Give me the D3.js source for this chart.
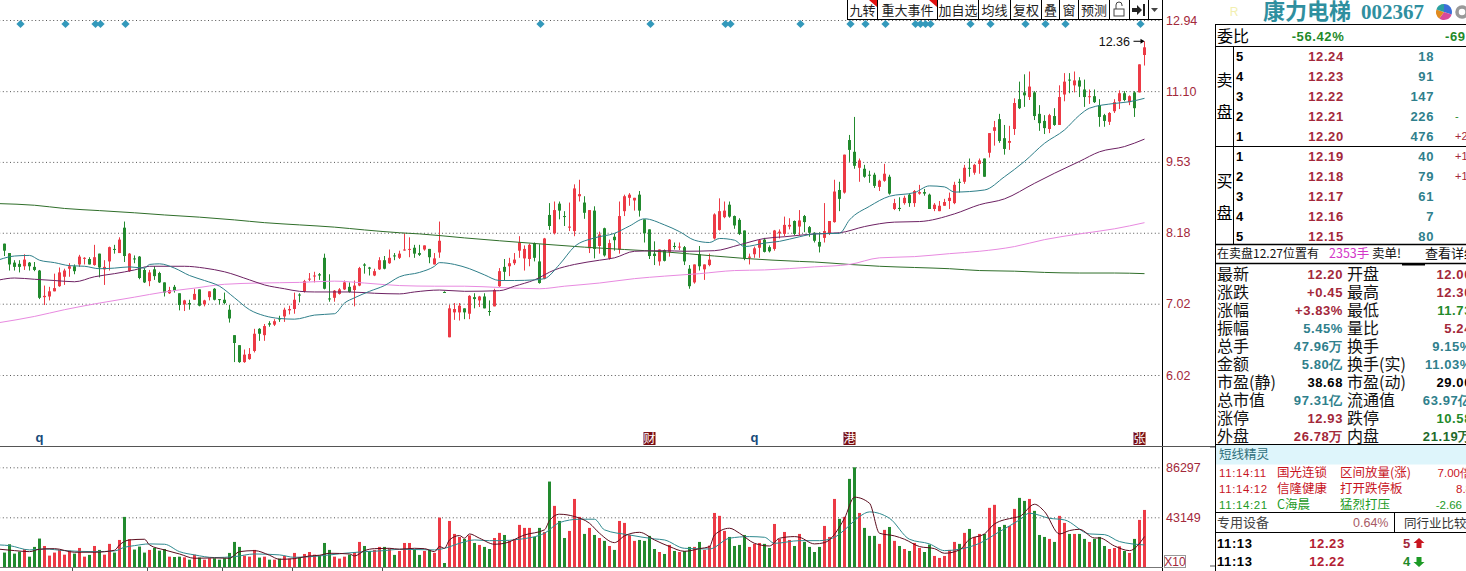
<!DOCTYPE html>
<html>
<head>
<meta charset="utf-8">
<title>康力电梯 002367</title>
<script src="https://cdn.jsdelivr.net/npm/d3@7/dist/d3.min.js"></script>
<style>
    html, body { margin: 0; padding: 0; background: #fff; overflow: hidden; }
    svg { display: block; }
    text { font-family: "Noto Sans CJK SC", "Liberation Sans", sans-serif; }
    .num { font-family: "Liberation Sans", Arial, sans-serif; }
    .bold { font-family: "Liberation Sans", Arial, sans-serif; font-weight: bold; letter-spacing: 0.6px; }
</style>
</head>
<body>
<svg id="chart" width="1466" height="571"></svg>
<script>
var openPrices = [
    7.99,7.83,7.67,7.65,7.61,7.67,7.60,7.54,7.12,7.13,
    7.21,7.29,7.44,7.57,7.61,7.64,7.74,7.73,7.63,7.82,
    7.56,7.69,7.90,7.83,8.27,7.53,7.74,7.77,7.55,7.37,
    7.56,7.50,7.35,7.18,7.28,7.18,7.01,7.03,7.08,7.24,
    7.01,7.12,7.25,7.09,7.08,6.93,6.56,6.42,6.19,6.23,
    6.34,6.65,6.56,6.73,6.71,6.80,6.83,6.92,6.94,7.16,
    7.21,7.40,7.45,7.48,7.75,7.10,7.11,7.17,7.24,7.28,
    7.23,7.30,7.64,7.59,7.46,7.56,7.71,7.66,7.79,7.75,
    7.88,7.89,7.92,7.83,7.89,7.90,7.64,7.84,7.20,6.53,
    6.89,6.89,6.95,6.87,7.12,7.07,7.13,6.91,6.98,7.29,
    7.60,7.61,7.66,7.87,7.74,7.73,8.00,7.69,7.41,8.50,
    8.17,8.71,8.48,8.27,8.21,8.85,8.73,7.91,8.58,7.95,
    8.26,7.74,8.11,7.89,8.57,8.82,8.77,8.88,8.42,8.24,
    7.82,7.69,7.88,7.85,7.95,7.93,7.93,7.57,7.35,7.81,
    7.56,7.63,8.08,8.23,8.46,8.69,8.48,8.41,8.22,7.75,
    7.81,7.92,8.06,7.93,7.90,8.17,8.16,8.29,8.39,8.29,
    8.48,8.28,8.18,8.02,8.09,8.16,8.37,8.97,8.92,9.99,
    9.74,9.41,9.39,9.27,9.27,9.03,9.15,9.23,8.61,8.63,
    8.72,8.88,8.72,8.90,8.93,8.88,8.61,8.57,8.67,8.76,
    8.72,9.13,9.13,9.41,9.31,9.49,9.60,9.72,10.19,10.45,
    10.03,9.93,10.23,10.91,11.07,10.96,11.07,10.57,10.41,10.23,
    10.52,10.32,11.02,11.38,11.24,11.36,11.14,10.96,10.98,10.77,
    10.54,10.39,10.63,10.86,11.05,10.84,11.07,11.07,12.00
];
var closePrices = [
    7.87,7.64,7.60,7.60,7.72,7.61,7.55,7.11,7.14,7.21,
    7.26,7.51,7.54,7.61,7.53,7.77,7.75,7.64,7.76,7.59,
    7.60,7.93,7.89,8.06,7.78,7.82,7.73,7.42,7.35,7.51,
    7.45,7.35,7.19,7.23,7.22,7.00,7.07,7.01,7.17,6.99,
    7.07,7.21,7.08,7.08,7.03,6.80,6.45,6.19,6.29,6.30,
    6.58,6.58,6.69,6.71,6.76,6.79,6.93,6.94,7.08,7.15,
    7.37,7.41,7.46,7.46,7.25,7.09,7.22,7.24,7.35,7.20,
    7.30,7.58,7.62,7.57,7.53,7.71,7.57,7.75,7.78,7.82,
    7.89,7.90,7.82,7.80,7.96,7.76,7.74,8.04,7.19,6.95,
    6.94,6.99,6.89,7.14,7.09,7.13,6.95,6.90,7.23,7.53,
    7.52,7.66,7.72,8.01,7.90,7.97,7.75,7.34,8.08,8.30,
    8.59,8.58,8.47,8.29,9.00,8.89,8.54,8.59,7.90,8.15,
    7.79,8.00,8.05,8.48,8.85,8.88,8.82,8.58,8.17,7.78,
    7.78,7.89,7.70,8.06,7.94,7.94,7.69,7.29,7.64,7.61,
    7.64,7.72,8.51,8.57,8.58,8.47,8.31,8.16,7.74,7.77,
    7.91,8.05,7.85,7.86,8.22,8.20,8.32,8.32,8.16,8.40,
    8.37,8.18,8.04,7.94,8.21,8.39,8.94,8.80,9.68,9.78,
    9.45,9.56,9.23,9.25,9.05,9.15,9.29,8.90,8.72,8.61,
    8.82,8.72,8.95,8.93,8.90,8.61,8.69,8.67,8.74,8.82,
    9.07,9.11,9.41,9.39,9.47,9.56,9.23,10.14,10.27,9.97,
    9.80,9.97,10.82,10.70,11.00,11.21,10.52,10.36,10.25,10.54,
    10.32,10.96,11.33,11.36,11.36,11.21,10.96,10.98,10.84,10.50,
    10.41,10.59,10.84,11.05,10.89,10.98,10.70,11.76,12.20
];
var highPrices = [
    7.99,7.83,7.71,7.71,7.81,7.68,7.68,7.55,7.30,7.28,
    7.49,7.59,7.57,7.66,7.64,7.80,7.76,7.76,7.97,7.82,
    7.71,7.94,7.97,8.10,8.38,7.83,7.79,7.78,7.58,7.55,
    7.61,7.52,7.35,7.28,7.31,7.18,7.08,7.08,7.25,7.24,
    7.08,7.21,7.26,7.09,7.19,7.00,6.56,6.42,6.36,6.38,
    6.65,6.66,6.72,6.76,6.79,6.84,6.96,6.99,7.19,7.18,
    7.39,7.50,7.52,7.50,7.82,7.48,7.23,7.26,7.38,7.35,
    7.38,7.60,7.66,7.60,7.57,7.76,7.78,7.89,7.83,7.87,
    8.17,8.10,7.97,7.97,7.96,7.90,7.83,8.38,7.21,7.00,
    7.03,7.03,6.95,7.15,7.18,7.14,7.18,7.07,7.25,7.58,
    7.73,7.75,7.83,8.12,7.96,7.99,8.01,7.98,8.09,8.72,
    8.75,8.75,8.57,8.73,9.08,9.17,8.85,8.59,8.66,8.20,
    8.27,8.06,8.16,8.75,8.88,8.91,8.82,8.95,8.42,8.24,
    8.03,7.89,7.89,8.07,8.01,8.01,7.95,7.63,7.64,7.95,
    7.64,7.82,8.53,8.81,8.75,8.75,8.49,8.44,8.22,7.82,
    7.94,8.07,8.09,7.96,8.23,8.24,8.47,8.44,8.40,8.59,
    8.50,8.30,8.19,8.19,8.72,8.39,9.17,9.13,9.68,10.10,
    10.50,9.60,9.47,9.35,9.31,9.17,9.49,9.27,8.80,8.83,
    8.86,8.90,8.97,9.07,8.99,8.90,8.72,8.76,8.80,8.92,
    9.13,9.19,9.47,9.60,9.49,9.60,9.60,10.14,10.41,10.57,
    10.32,10.30,10.93,11.33,11.51,11.58,11.10,10.77,10.54,10.57,
    10.70,11.24,11.54,11.54,11.58,11.44,11.38,11.14,11.14,10.91,
    10.57,10.61,10.91,11.12,11.10,11.00,11.10,11.76,12.36
];
var lowPrices = [
    7.78,7.54,7.54,7.51,7.55,7.54,7.53,7.09,7.00,7.07,
    7.21,7.28,7.31,7.44,7.48,7.60,7.64,7.64,7.62,7.43,
    7.31,7.54,7.82,7.83,7.68,7.52,7.66,7.40,7.34,7.29,
    7.39,7.34,7.13,7.17,7.19,6.92,6.91,6.93,7.08,6.98,
    6.98,7.07,7.07,7.01,7.01,6.74,6.19,6.18,6.18,6.22,
    6.32,6.48,6.48,6.68,6.69,6.75,6.75,6.86,6.87,7.04,
    7.19,7.37,7.35,7.39,7.24,7.05,7.05,7.16,7.23,7.19,
    6.98,7.29,7.49,7.46,7.45,7.55,7.56,7.65,7.71,7.73,
    7.87,7.76,7.75,7.78,7.87,7.66,7.64,7.75,7.19,6.53,
    6.78,6.77,6.79,6.79,6.95,6.97,6.95,6.84,6.98,7.28,
    7.38,7.45,7.63,7.75,7.54,7.61,7.69,7.33,7.40,8.23,
    8.15,8.42,8.30,8.21,8.12,8.75,8.43,7.83,7.74,7.82,
    7.77,7.72,7.87,7.82,8.48,8.67,8.58,8.47,8.01,7.73,
    7.63,7.62,7.69,7.77,7.89,7.88,7.63,7.25,7.33,7.54,
    7.39,7.61,8.06,8.22,8.44,8.45,8.25,8.14,7.71,7.64,
    7.75,7.75,7.84,7.84,7.87,8.08,8.12,8.24,8.14,8.13,
    8.19,8.11,8.01,7.84,8.01,8.14,8.36,8.57,8.90,9.53,
    9.39,9.13,9.21,9.11,9.01,8.95,9.13,8.88,8.59,8.57,
    8.69,8.65,8.65,8.88,8.86,8.61,8.57,8.57,8.67,8.61,
    8.70,8.92,9.09,9.23,9.27,9.29,9.23,9.62,9.87,9.93,
    9.68,9.78,10.10,10.68,10.73,10.89,10.43,10.19,10.12,10.14,
    10.30,10.32,10.86,11.05,11.07,10.96,10.73,10.80,10.82,10.28,
    10.28,10.32,10.59,10.68,10.86,10.77,10.50,11.07,11.73
];
var volumes = [
    12700,19900,11800,13500,15600,9200,17600,24800,18400,10100,
    12700,15000,10900,14400,11800,16700,9200,10700,18400,15000,
    10900,20200,12700,23600,43500,24200,15300,17900,12700,15000,
    16700,14400,15800,9200,8900,9200,8600,6600,10900,8400,
    6600,7800,7800,6600,7800,12400,21900,17600,10100,9200,
    15000,8400,9200,6600,6600,7500,9800,7500,12400,8400,
    11500,13200,10900,10100,21000,15000,9200,7500,9200,10900,
    13200,21900,18400,14100,15000,17600,17600,16400,10700,14100,
    21000,21000,15800,10700,14100,15000,12400,42900,3700,40000,
    28800,26200,24500,27600,21000,19300,17600,15800,25300,29700,
    27900,22800,24500,36600,34000,34000,26200,34000,30500,74000,
    53000,40000,25300,31400,59000,43500,28800,34000,27900,25300,
    22800,18400,15000,40000,38300,27900,22800,23600,22800,27100,
    15800,13200,11500,19300,14100,13200,14100,17600,17600,21900,
    15000,18700,46900,44400,31400,26200,18400,19300,27900,17600,
    20200,21000,20200,16700,37400,24500,30500,23600,18400,28800,
    21900,17600,13200,17600,35700,26200,59000,41800,43500,76300,
    86297,46900,34000,27100,27100,20200,32300,34800,22800,18400,
    15800,14100,21000,16700,13200,19600,9800,8100,9800,15000,
    21900,20200,29700,33100,26200,28800,28800,51300,53900,34800,
    36600,35700,50400,59900,57300,59000,48700,27900,26200,24500,
    21900,44400,38300,28800,28800,28800,24500,21900,24500,26200,
    18400,15800,16700,18100,14100,12400,24500,40900,49500
];

var maTealDays = [-1,2,5,7,10,13,16,19,22,25,28,29,31,34,37,40,43,46,49,52,55,58,62,66,68,70,73,76,79,83,86,87,90,93,96,99,102,106,108,111,114,118,122,125,128,132,135,138,141,143,146,148,152,155,159,162,167,169,173,177,182,185,188,190,196,200,204,208,212,215,217,222,225,228];
var maTeal = [7.72,7.78,7.79,7.71,7.67,7.62,7.61,7.57,7.58,7.60,7.58,7.64,7.65,7.58,7.46,7.38,7.29,7.11,6.93,6.84,6.80,6.79,6.85,6.87,7.03,7.11,7.21,7.30,7.44,7.51,7.61,7.67,7.64,7.57,7.47,7.38,7.38,7.39,7.41,7.64,7.94,8.09,8.17,8.30,8.43,8.32,8.20,8.05,8.01,8.08,8.05,7.94,8.00,8.03,8.11,8.16,8.17,8.41,8.66,8.85,8.92,9.05,9.03,8.93,8.97,9.23,9.54,9.92,10.21,10.54,10.70,10.81,10.85,10.93];
var maPurpleDays = [-1,2,6,10,14,18,22,26,29,36,40,44,49,52,56,59,62,69,74,79,82,87,92,99,102,106,110,114,119,122,126,132,136,142,147,152,156,162,167,172,178,183,190,195,200,206,210,215,219,224,228];
var maPurple = [7.39,7.42,7.40,7.38,7.36,7.44,7.49,7.55,7.61,7.61,7.58,7.52,7.39,7.31,7.25,7.21,7.20,7.20,7.18,7.17,7.20,7.23,7.21,7.22,7.29,7.39,7.55,7.64,7.71,7.75,7.86,7.87,7.86,7.87,7.97,8.08,8.11,8.16,8.18,8.29,8.37,8.38,8.52,8.69,8.80,9.10,9.30,9.54,9.74,9.85,10.01];
var maPinkDays = [-1,6,12,19,26,32,38,44,51,59,66,72,79,86,92,99,107,112,119,126,132,139,146,152,162,169,175,182,189,195,202,208,215,222,228];
var maPink = [6.74,6.83,6.93,7.03,7.12,7.20,7.26,7.32,7.34,7.35,7.37,7.34,7.30,7.29,7.29,7.27,7.25,7.29,7.34,7.41,7.45,7.49,7.54,7.55,7.60,7.64,7.75,7.77,7.82,7.86,7.94,8.06,8.16,8.25,8.36];
var maGreenDays = [-1,6,12,19,26,32,39,46,52,59,66,72,79,83,92,99,108,116,124,132,142,148,159,162,169,175,182,189,195,202,208,215,222,228];
var maGreen = [8.71,8.68,8.62,8.58,8.54,8.50,8.46,8.41,8.36,8.32,8.28,8.23,8.18,8.16,8.09,8.04,7.98,7.93,7.89,7.85,7.78,7.74,7.69,7.68,7.64,7.61,7.59,7.57,7.54,7.53,7.51,7.50,7.50,7.49];

var volMaDarkDays = [-1,2,5,7,10,14,18,22,23,25,28,29,32,35,38,42,45,47,50,53,55,58,61,63,65,69,70,72,74,77,79,82,84,86,87,88,89,91,92,93,95,98,100,104,108,109,111,114,117,119,122,124,127,130,133,136,139,141,142,145,147,150,153,155,158,159,162,164,168,170,173,175,178,180,183,186,188,191,193,196,198,202,203,206,208,211,213,215,218,219,222,225,228];
var volMaDark = [15600,14400,13500,15600,16100,13000,13000,14700,19300,23600,24200,19300,15000,11500,7800,8100,7800,13500,14400,10400,6900,7500,9800,10400,12100,11500,9800,14400,16100,16400,15600,16400,16100,13500,17900,16400,23600,27400,25100,28800,25100,19900,20700,27900,32300,40300,45800,43800,38000,29400,21300,27100,30200,23600,17900,13800,16100,17900,27900,33700,29400,20700,18400,25100,26500,25900,20200,21300,42300,60500,55300,29400,27100,24200,17900,16100,12100,15000,24200,28800,37400,42900,43800,54400,48100,28800,31700,32800,25300,25300,18400,14400,26500];
var volMaTealDays = [-1,1,5,8,12,18,22,24,26,29,32,35,38,42,46,50,55,58,63,68,72,76,79,86,88,91,94,97,99,103,108,111,115,118,120,125,130,132,136,141,145,149,152,154,159,163,166,168,171,173,177,181,185,188,191,195,199,203,205,209,212,217,220,223,228];
var volMaTeal = [19300,18700,15000,15800,14400,13500,14100,17300,18700,20200,19900,13500,10700,8400,9200,11500,10700,8600,9800,12100,13500,14400,15600,15000,16400,20700,23600,23000,23000,24200,29400,38600,41500,41500,32300,27900,24500,23600,16400,15800,25100,26500,25900,20700,23000,23000,25900,32300,43800,47800,42300,24200,20200,14400,15600,20700,30800,40900,46700,42300,40900,28800,28200,22200,19300];

var priceTicks = [12.94, 11.10, 9.53, 8.18, 7.02, 6.02];
var volumeTicks = [86297, 43149];
var tradeDays = [3,12,18,19,24,107,129,144,145,159,169,172,176,182,183,184,185,193,197,204,208,212,227];
var eventDays = [7,129,150,169,227];
var eventLabels = ['q','财','q','港','张'];
var monthTickDays = [14,29,44,58,76];

var toolbarLabels = ['九转','重大事件','加自选','均线','复权','叠','窗','预测'];
var quoteLevels = ['5','4','3','2','1','1','2','3','4','5'];
var quotePrices = ['12.24','12.23','12.22','12.21','12.20','12.19','12.18','12.17','12.16','12.15'];
var quoteSizes = ['18','91','147','226','476','40','79','61','7','80'];
var quoteChanges = ['','','','-','+2','+1','+1','','',''];
var statLabelsLeft = ['最新','涨跌','涨幅','振幅','总手','金额','市盈(静)','总市值','涨停','外盘'];
var statValuesLeft = ['12.20','+0.45','+3.83%','5.45%','47.96万','5.80亿','38.68','97.31亿','12.93','26.78万'];
var statLabelsRight = ['开盘','最高','最低','量比','换手','换手(实)','市盈(动)','流通值','跌停','内盘'];
var statValuesRight = ['12.00','12.30','11.73','5.24','9.15%','11.03%','29.00','63.97亿','10.58','21.19万'];
var alertTimes = ['11:14:11','11:14:12','11:14:21'];
var alertNames = ['国光连锁','信隆健康','C海晨'];
var alertEvents = ['区间放量(涨)','打开跌停板','猛烈打压'];
var alertValues = ['7.00倍','8.8','-2.66'];
var tradeTimes = ['11:13','11:13'];
var tradePrices = ['12.23','12.22'];
var tradeSizes = ['5','4'];

var RED = '#ec3a45', GREEN = '#228a2e', DARK_RED = '#a3283a', TEAL = '#2f7f8c', QUOTE_GREEN = '#1f8a2a';

var svg = d3.select('#chart');
var chartWidth = 1163;

var x = d3.scaleLinear().domain([0, 228]).range([4.5, 1144.5]);
var y = d3.scaleLog().domain([12.94, 6.02]).range([20, 375]);
var yVol = d3.scaleLinear().domain([0, 86297]).range([567.3, 467.3]);

var days = d3.range(openPrices.length);
function isUp(i) { return closePrices[i] >= openPrices[i]; }
function barColor(i) { return isUp(i) ? RED : GREEN; }

drawGrid();
drawVolumes();
drawCandles();
drawAverages();
drawMarkers();
drawFrame();
drawToolbar();
drawQuotePanel();
drawStatsPanel();
drawAlertsPanel();

function drawGrid() {
    var priceAxis = d3.axisRight(y)
        .tickValues(priceTicks)
        .tickFormat(d3.format('.2f'))
        .tickSizeInner(-chartWidth)
        .tickSizeOuter(0)
        .tickPadding(3);
    var volAxis = d3.axisRight(yVol)
        .tickValues(volumeTicks)
        .tickFormat(d3.format('d'))
        .tickSizeInner(-chartWidth)
        .tickSizeOuter(0)
        .tickPadding(3);

    [priceAxis, volAxis].forEach(function(a) {
        var g = svg.append('g')
            .attr('transform', 'translate(' + chartWidth + ',0)')
            .call(a);
        g.select('.domain').remove();
        g.selectAll('line')
            .attr('stroke', '#555')
            .attr('stroke-dasharray', '1,2.6');
        g.selectAll('text')
            .attr('class', 'num')
            .attr('x', 3)
            .attr('fill', DARK_RED)
            .attr('font-size', 12.5);
    });
}

function drawVolumes() {
    svg.append('g').selectAll('rect')
        .data(days)
        .enter().append('rect')
        .attr('x', function(i) { return x(i) - 1.5; })
        .attr('width', 3)
        .attr('y', function(i) { return yVol(volumes[i]); })
        .attr('height', function(i) { return yVol(0) - yVol(volumes[i]); })
        .attr('fill', barColor);
}

function drawCandles() {
    var groups = svg.append('g').selectAll('g')
        .data(days)
        .enter().append('g');

    groups.append('line')
        .attr('x1', x)
        .attr('x2', x)
        .attr('y1', function(i) { return y(highPrices[i]); })
        .attr('y2', function(i) { return y(lowPrices[i]); })
        .attr('stroke', barColor)
        .attr('stroke-width', 1);

    groups.append('rect')
        .attr('x', function(i) { return x(i) - 1.5; })
        .attr('width', 3)
        .attr('y', function(i) { return y(Math.max(openPrices[i], closePrices[i])); })
        .attr('height', function(i) {
            return Math.max(1, Math.abs(y(openPrices[i]) - y(closePrices[i])));
        })
        .attr('fill', barColor);
}

function drawAverages() {
    function addLine(xs, vs, scale, color, width) {
        var line = d3.line()
            .x(function(d) { return x(d); })
            .y(function(d, n) { return scale(vs[n]); })
            .curve(d3.curveMonotoneX);
        svg.append('path')
            .attr('d', line(xs))
            .attr('fill', 'none')
            .attr('stroke', color)
            .attr('stroke-width', width);
    }

    addLine(maGreenDays, maGreen, y, '#2f6e2a', 1);
    addLine(maPinkDays, maPink, y, '#e88ae0', 1);
    addLine(maPurpleDays, maPurple, y, '#6d2163', 1);
    addLine(maTealDays, maTeal, y, '#2f7f8a', 1);
    addLine(volMaTealDays, volMaTeal, yVol, '#2f8a8f', 1);
    addLine(volMaDarkDays, volMaDark, yVol, '#5c0d1e', 1);
}

function drawMarkers() {
    var diamond = d3.symbol().type(d3.symbolSquare).size(34);
    svg.append('g').selectAll('path')
        .data(tradeDays)
        .enter().append('path')
        .attr('d', diamond)
        .attr('transform', function(d) {
            return 'translate(' + (x(d) + 1) + ',24) rotate(45)';
        })
        .attr('fill', '#3399bb');

    // highest point label
    svg.append('text')
        .attr('class', 'num')
        .attr('x', x(228) - 14.5)
        .attr('y', y(12.36) + 4.5)
        .attr('text-anchor', 'end')
        .attr('font-size', 12.5)
        .attr('fill', '#111')
        .text('12.36');
    svg.append('line')
        .attr('x1', x(228) - 11).attr('x2', x(228) - 1)
        .attr('y1', y(12.36)).attr('y2', y(12.36))
        .attr('stroke', '#000');
    svg.append('path')
        .attr('d', 'M' + x(228) + ',' + y(12.36) + 'l-4,-2.5v5z')
        .attr('fill', '#000');

    var events = svg.append('g').selectAll('g')
        .data(eventDays)
        .enter().append('g')
        .attr('transform', function(d) { return 'translate(' + x(d) + ',438.5)'; });
    events.each(function(d, n) {
        var g = d3.select(this);
        if (eventLabels[n] === 'q') {
            g.append('text')
                .attr('class', 'num')
                .attr('text-anchor', 'middle')
                .attr('y', 3)
                .attr('font-weight', 'bold')
                .attr('font-size', 13)
                .attr('fill', '#164a7a')
                .text('q');
        } else {
            g.append('rect')
                .attr('x', -6).attr('y', -6.5)
                .attr('width', 12).attr('height', 13)
                .attr('fill', '#7a0f14');
            g.append('text')
                .attr('text-anchor', 'middle')
                .attr('y', 4.5)
                .attr('font-size', 12)
                .attr('fill', '#fff')
                .text(eventLabels[n]);
        }
    });

    svg.append('g').selectAll('line')
        .data(monthTickDays)
        .enter().append('line')
        .attr('x1', function(d) { return x(d) - 2; })
        .attr('x2', function(d) { return x(d) - 2; })
        .attr('y1', 567).attr('y2', 571)
        .attr('stroke', '#555');
}

function hLine(x1, x2, yPos, color, width) {
    svg.append('line')
        .attr('x1', x1).attr('x2', x2)
        .attr('y1', yPos).attr('y2', yPos)
        .attr('stroke', color || '#000')
        .attr('stroke-width', width || 1);
}

function vLine(xPos, y1, y2, color, width) {
    svg.append('line')
        .attr('x1', xPos).attr('x2', xPos)
        .attr('y1', y1).attr('y2', y2)
        .attr('stroke', color || '#000')
        .attr('stroke-width', width || 1);
}

function drawFrame() {
    vLine(1162.5, 0, 571);
    hLine(0, 1216, 446.5, '#555');
    hLine(0, 1163, 567.5, '#777');
    vLine(1215.5, 24, 571);

    svg.append('rect')
        .attr('x', 1164.5).attr('y', 555.5)
        .attr('width', 21).attr('height', 12)
        .attr('fill', '#fff').attr('stroke', '#999');
    svg.append('text')
        .attr('class', 'num')
        .attr('x', 1175).attr('y', 566)
        .attr('text-anchor', 'middle')
        .attr('font-size', 12)
        .attr('fill', DARK_RED)
        .text('X10');
}

function drawToolbar() {
    var edges = [847, 877, 937, 978, 1010, 1041, 1059, 1078, 1109, 1129, 1148, 1162];
    var bar = svg.append('g');

    bar.append('rect')
        .attr('x', 847).attr('y', -1)
        .attr('width', 316).attr('height', 20.5)
        .attr('fill', '#fff');

    edges.forEach(function(e) {
        bar.append('line')
            .attr('x1', e + 0.5).attr('x2', e + 0.5)
            .attr('y1', 0).attr('y2', 19)
            .attr('stroke', '#000');
    });
    bar.append('line')
        .attr('x1', 847).attr('x2', 1163)
        .attr('y1', 19.5).attr('y2', 19.5)
        .attr('stroke', '#000');

    toolbarLabels.forEach(function(label, n) {
        bar.append('text')
            .attr('x', (edges[n] + edges[n + 1]) / 2 + 0.5)
            .attr('y', 15)
            .attr('text-anchor', 'middle')
            .attr('font-size', 13)
            .attr('fill', '#222')
            .text(label);
    });

    [877, 937].forEach(function(e) {
        bar.append('path')
            .attr('d', 'M' + (e - 8) + ',0H' + e + 'V7z')
            .attr('fill', '#e01010');
    });

    // lock, jump arrow and drop down
    bar.append('rect')
        .attr('x', 1114).attr('y', 9)
        .attr('width', 10).attr('height', 7)
        .attr('fill', 'none').attr('stroke', '#444');
    bar.append('path')
        .attr('d', 'M1116,9V5a3,3 0 0 1 6,0V6')
        .attr('fill', 'none').attr('stroke', '#444');
    bar.append('path')
        .attr('d', 'M1132,8h5v-3l5,5l-5,5v-3h-5zM1143,4h2v12h-2z')
        .attr('fill', '#222');
    bar.append('path')
        .attr('d', 'M1151,8h7l-3.5,4z')
        .attr('fill', '#444');
}

function panelText(str, xPos, yPos, opts) {
    opts = opts || {};
    return svg.append('text')
        .attr('class', opts.cls || null)
        .attr('x', xPos)
        .attr('y', yPos)
        .attr('text-anchor', opts.anchor || 'start')
        .attr('font-size', opts.size || 13)
        .attr('fill', opts.color || '#000')
        .attr('font-weight', opts.weight || null)
        .text(str);
}

function drawQuotePanel() {
    // header
    panelText('R', 1234, 16, { anchor: 'middle', size: 12, color: '#f2efb0', cls: 'num' });
    panelText('康力电梯', 1263, 19, { size: 22, color: '#2f8f9f', weight: 'bold' });
    svg.append('text')
        .attr('x', 1361).attr('y', 19)
        .attr('style', 'font-family:"Liberation Serif",serif;font-weight:bold')
        .attr('font-size', 21)
        .attr('fill', '#2f8f9f')
        .text('002367');

    var pie = d3.pie().sort(null)([3, 3, 2, 2]);
    var arc = d3.arc().innerRadius(0).outerRadius(8);
    var pieColors = ['#3a6fd8', '#d84a9a', '#e08a20', '#2aa0a0'];
    svg.append('g')
        .attr('transform', 'translate(1444,12)')
        .selectAll('path')
        .data(pie)
        .enter().append('path')
        .attr('d', arc)
        .attr('fill', function(d, n) { return pieColors[n]; });
    svg.append('circle')
        .attr('cx', 1462).attr('cy', 12).attr('r', 5)
        .attr('fill', 'none')
        .attr('stroke', '#999')
        .attr('stroke-width', 3.5);

    hLine(1215, 1466, 24.5);
    hLine(1215, 1466, 46.5);
    panelText('委比', 1217, 42, { size: 16 });
    panelText('-56.42%', 1318, 41, { cls: 'bold', anchor: 'middle', color: QUOTE_GREEN, size: 13 });
    panelText('-69', 1445, 41, { cls: 'bold', color: QUOTE_GREEN, size: 13 });

    vLine(1233.5, 46, 244);
    hLine(1215, 1466, 146.5);
    [['卖', 86], ['盘', 118], ['买', 187], ['盘', 219]].forEach(function(d) {
        panelText(d[0], 1216.5, d[1], { size: 16 });
    });

    quoteLevels.forEach(function(level, n) {
        var rowY = 61 + n * 20;
        panelText(level, 1236, rowY, { cls: 'bold', size: 13 });
        panelText(quotePrices[n], 1326, rowY, { cls: 'bold', anchor: 'middle', color: DARK_RED, size: 13 });
        panelText(quoteSizes[n], 1434, rowY, { cls: 'bold', anchor: 'end', color: TEAL, size: 13 });
        if (quoteChanges[n]) {
            panelText(quoteChanges[n], 1455, rowY - 1, {
                cls: 'num',
                size: 11,
                color: quoteChanges[n] === '-' ? QUOTE_GREEN : DARK_RED
            });
        }
    });

    hLine(1215, 1466, 244.5, '#000', 1.5);
    hLine(1215, 1466, 263.5, '#000', 1.5);
    hLine(1402, 1425, 264.5, '#000', 2);
    panelText('在卖盘12.27位置有', 1217, 258, { size: 12, color: '#111' });
    panelText('2353手', 1329, 258, { size: 12.5, color: '#d435c8' });
    panelText('卖单!', 1372, 258, { size: 12.5, color: '#111' });
    panelText('查看详细', 1425, 258, { size: 13, color: '#111' });
}

function drawStatsPanel() {
    var leftColors = [DARK_RED, DARK_RED, DARK_RED, TEAL, TEAL, TEAL, '#000', TEAL, DARK_RED, DARK_RED];
    var rightColors = [DARK_RED, DARK_RED, QUOTE_GREEN, DARK_RED, TEAL, TEAL, '#000', TEAL, QUOTE_GREEN, '#1f6a2a'];

    statLabelsLeft.forEach(function(label, n) {
        var rowY = 279.5 + n * 18;
        panelText(label, 1217, rowY, { size: 16, color: '#111' });
        panelText(statValuesLeft[n], 1343, rowY - 1, { cls: 'bold', anchor: 'end', size: 13, color: leftColors[n] });
        panelText(statLabelsRight[n], 1347, rowY, { size: 16, color: '#111' });
        panelText(statValuesRight[n], 1472, rowY - 1, { cls: 'bold', anchor: 'end', size: 13, color: rightColors[n] });
    });
    hLine(1215, 1466, 444.5);
}

function drawAlertsPanel() {
    svg.append('rect')
        .attr('x', 1216).attr('y', 445)
        .attr('width', 250).attr('height', 19.5)
        .attr('fill', '#def5fb');
    panelText('短线精灵', 1219, 458.5, { size: 12.5, color: '#2f6f7a' });

    alertTimes.forEach(function(t, n) {
        var rowY = 476.5 + n * 16;
        var color = n < 2 ? '#c8151f' : '#1c9a25';
        panelText(t, 1219, rowY, { cls: 'num', size: 11.5, color: color }).attr('letter-spacing', 0.6);
        panelText(alertNames[n], 1277, rowY, { size: 12.5, color: color });
        panelText(alertEvents[n], 1340, rowY, { size: 12.5, color: color });
        panelText(alertValues[n], n === 2 ? 1462 : 1472, rowY, { cls: 'num', size: 11.5, anchor: 'end', color: color });
    });

    hLine(1216, 1466, 512.5);
    hLine(1216, 1466, 532.5);
    vLine(1394.5, 512, 532);
    panelText('专用设备', 1217, 527, { size: 13, color: '#444' });
    panelText('0.64%', 1353, 527, { cls: 'num', size: 12.5, color: '#a85a66' });
    panelText('同行业比较', 1404, 528, { size: 12.5, color: '#333' });

    tradeTimes.forEach(function(t, n) {
        var rowY = 548 + n * 18;
        panelText(t, 1217, rowY, { cls: 'bold', size: 13 });
        panelText(tradePrices[n], 1327, rowY, { cls: 'bold', anchor: 'middle', color: '#b32032', size: 13 });
        var color = n === 0 ? DARK_RED : QUOTE_GREEN;
        panelText(tradeSizes[n], 1407, rowY, { cls: 'bold', anchor: 'middle', color: color, size: 13 });
        var arrow = n === 0
            ? 'M1419,' + (rowY - 10) + 'l5.5,5h-3v5h-5v-5h-3z'
            : 'M1419,' + (rowY + 1) + 'l5.5,-5h-3v-5h-5v5h-3z';
        svg.append('path').attr('d', arrow).attr('fill', n === 0 ? '#c8151f' : '#1c9a25');
    });

    hLine(1210, 1215, 447, '#555');
    hLine(1210, 1215, 566, '#555');
}
</script>
</body>
</html>
